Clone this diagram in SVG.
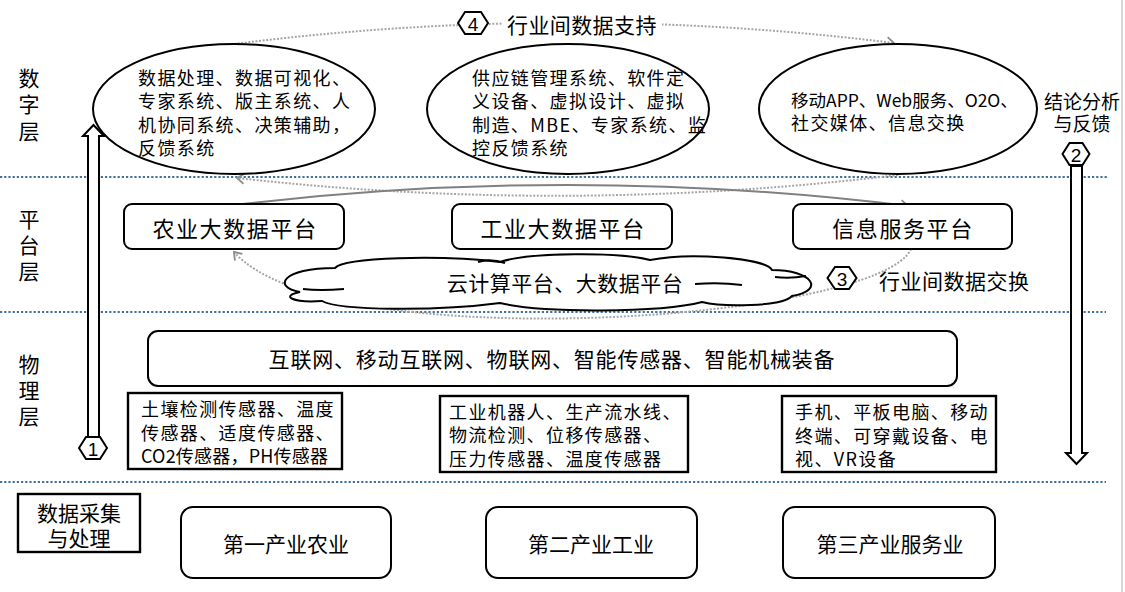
<svg xmlns="http://www.w3.org/2000/svg" width="1125" height="592" viewBox="0 0 1125 592">
<style>
.t{font-family:"Noto Sans CJK SC","Liberation Sans",sans-serif;fill:#000;dominant-baseline:central}
.s18{font-size:18px;letter-spacing:1.4px}
.s21{font-size:21px}
.s22{font-size:22px;letter-spacing:1.6px}
.c{text-anchor:middle}
.num{font-family:"Liberation Sans",sans-serif;font-size:19px;text-anchor:middle;dominant-baseline:central}
.sep{stroke:#41719c;stroke-width:2;stroke-dasharray:2.2 2;fill:none}
.node{fill:#fff;stroke:#000;stroke-width:2}
.sq{fill:#fff;stroke:#000;stroke-width:2.4}
.hex{fill:#fff;stroke:#000;stroke-width:2}
.dot{fill:none;stroke:#a6a6a6;stroke-width:2;stroke-dasharray:2 1.6}
.sol{fill:none;stroke:#808080;stroke-width:2}
</style>
<defs>
<marker id="ah" markerWidth="12" markerHeight="12" refX="9" refY="6" orient="auto" markerUnits="userSpaceOnUse">
<path d="M2,1 L9,6 L2,11" fill="none" stroke="#8c8c8c" stroke-width="1.8"/>
</marker>
</defs>
<rect width="1125" height="592" fill="#fff"/>
<line x1="1122" y1="0" x2="1122" y2="592" stroke="#c8c8c8" stroke-width="1.5"/>

<g id="separators">
<line class="sep" x1="0" y1="177" x2="1108" y2="177"/>
<line class="sep" x1="0" y1="312" x2="1106" y2="312"/>
<line class="sep" x1="0" y1="482" x2="1106" y2="482"/>
</g>

<g id="layer-labels">
<text class="t s21 c" x="29" y="77">数</text>
<text class="t s21 c" x="29" y="103">字</text>
<text class="t s21 c" x="29" y="130">层</text>
<text class="t s21 c" x="29" y="218">平</text>
<text class="t s21 c" x="29" y="244">台</text>
<text class="t s21 c" x="29" y="270">层</text>
<text class="t s21 c" x="29" y="363">物</text>
<text class="t s21 c" x="29" y="389">理</text>
<text class="t s21 c" x="29" y="415">层</text>
</g>

<g id="connectors">
<path class="dot" d="M234,44 Q565,2 894,43" marker-end="url(#ah)"/>
<path class="dot" d="M898,175 Q567,215 237,178" marker-end="url(#ah)"/>
<path class="sol" d="M243,204 Q575,165 908,206" marker-end="url(#ah)"/>
<path class="dot" d="M911,249 C880,320 330,360 234,252" marker-end="url(#ah)"/>
<path id="arrow-up" d="M88,437 L88,136 L83,136 L93.5,125 L104,136 L99,136 L99,437 Z" fill="#fff" stroke="#000" stroke-width="2"/>
<path id="arrow-down" d="M1071,166 L1071,453 L1066,453 L1076.5,464 L1087,453 L1082,453 L1082,166 Z" fill="#fff" stroke="#000" stroke-width="2"/>
</g>

<g id="label-4">
<rect x="502" y="11" width="160" height="26" fill="#fff"/>
<polygon class="hex" points="458,23 465,12 481,12 488,23 481,34 465,34"/>
<text class="num" x="473" y="24">4</text>
<text class="t s21" x="507" y="24" style="letter-spacing:0.4px">行业间数据支持</text>
</g>

<g id="label-2">
<text class="t" x="1082" y="100" style="font-size:19px;text-anchor:middle">结论分析</text>
<text class="t" x="1082" y="122" style="font-size:19px;text-anchor:middle">与反馈</text>
<polygon class="hex" points="1062.5,154 1069.5,143 1082.5,143 1089.5,154 1082.5,165 1069.5,165"/>
<text class="num" x="1076" y="155">2</text>
</g>

<g id="label-1">
<polygon class="hex" points="79,448 86,437 100,437 107,448 100,459 86,459"/>
<text class="num" x="93" y="449">1</text>
</g>

<g id="app-agri">
<ellipse class="node" cx="234" cy="109" rx="141" ry="65"/>
<text class="t s18" x="138" y="77">数据处理、数据可视化、</text>
<text class="t s18" x="138" y="100">专家系统、版主系统、人</text>
<text class="t s18" x="138" y="124">机协同系统、决策辅助，</text>
<text class="t s18" x="138" y="147">反馈系统</text>
</g>

<g id="app-ind">
<ellipse class="node" cx="568" cy="109" rx="141" ry="65"/>
<text class="t s18" x="472" y="77">供应链管理系统、软件定</text>
<text class="t s18" x="472" y="100">义设备、虚拟设计、虚拟</text>
<text class="t s18" x="472" y="124">制造、MBE、专家系统、监</text>
<text class="t s18" x="472" y="147">控反馈系统</text>
</g>

<g id="app-svc">
<ellipse class="node" cx="898" cy="109" rx="139" ry="65"/>
<text class="t" x="791" y="99" style="font-size:17.5px;letter-spacing:0px">移动APP、Web服务、O2O、</text>
<text class="t s18" x="791" y="122">社交媒体、信息交换</text>
</g>

<g id="plat-agri">
<rect class="node" x="124" y="204" width="220" height="45" rx="8"/>
<text class="t s22 c" x="235" y="227">农业大数据平台</text>
</g>
<g id="plat-ind">
<rect class="node" x="452" y="204" width="220" height="45" rx="8"/>
<text class="t s22 c" x="563" y="227">工业大数据平台</text>
</g>
<g id="plat-svc">
<rect class="node" x="793" y="204" width="219" height="45" rx="8"/>
<text class="t s22 c" x="903" y="227">信息服务平台</text>
</g>

<g id="cloud">
<path class="node" d="M300,292 C272,287 282,268 335,268 C345,257 440,255 500,262 C530,252 620,252 650,260 C690,252 765,258 772,270 C812,270 826,290 792,296 C782,307 722,307 702,302 C660,313 540,313 500,303 C440,311 340,311 322,301 C292,303 280,296 300,292 Z"/>
<path d="M303,289 Q320,291 344,289 M775,277 Q790,279 806,276 M695,284 Q720,282 742,285 M478,262 Q490,258 505,263" fill="none" stroke="#000" stroke-width="2"/>
<text class="t s21 c" x="565" y="282" style="letter-spacing:0.5px">云计算平台、大数据平台</text>
</g>

<g id="label-3">
<polygon class="hex" points="827.5,278 835,267 849,267 856.5,278 849,289 835,289"/>
<text class="num" x="842" y="279">3</text>
<text class="t s21" x="879" y="280" style="letter-spacing:0.5px">行业间数据交换</text>
</g>

<g id="network">
<rect class="node" x="148" y="331" width="809" height="55" rx="10"/>
<text class="t s21 c" x="552" y="358" style="letter-spacing:0.8px">互联网、移动互联网、物联网、智能传感器、智能机械装备</text>
</g>

<g id="sensor-agri">
<rect class="sq" x="128" y="393" width="214" height="76"/>
<text class="t s18" x="141" y="408">土壤检测传感器、温度</text>
<text class="t s18" x="141" y="432">传感器、适度传感器、</text>
<text class="t s18" x="141" y="455" style="letter-spacing:0.2px">CO2传感器，PH传感器</text>
</g>
<g id="sensor-ind">
<rect class="sq" x="440" y="396" width="248" height="76"/>
<text class="t s18" x="449" y="411">工业机器人、生产流水线、</text>
<text class="t s18" x="449" y="434">物流检测、位移传感器、</text>
<text class="t s18" x="449" y="458">压力传感器、温度传感器</text>
</g>
<g id="sensor-svc">
<rect class="sq" x="782" y="396" width="214" height="76"/>
<text class="t s18" x="795" y="411">手机、平板电脑、移动</text>
<text class="t s18" x="795" y="435">终端、可穿戴设备、电</text>
<text class="t s18" x="795" y="458">视、VR设备</text>
</g>

<g id="collect">
<rect class="sq" x="18" y="494" width="122" height="58"/>
<text class="t s21 c" x="79" y="512">数据采集</text>
<text class="t s21 c" x="79" y="537">与处理</text>
</g>
<g id="ind-1">
<rect class="node" x="181" y="507" width="210" height="71" rx="12"/>
<text class="t s21 c" x="286" y="543">第一产业农业</text>
</g>
<g id="ind-2">
<rect class="node" x="486" y="507" width="211" height="71" rx="12"/>
<text class="t s21 c" x="591" y="543">第二产业工业</text>
</g>
<g id="ind-3">
<rect class="node" x="783" y="507" width="212" height="71" rx="12"/>
<text class="t s21 c" x="890" y="543">第三产业服务业</text>
</g>
</svg>
